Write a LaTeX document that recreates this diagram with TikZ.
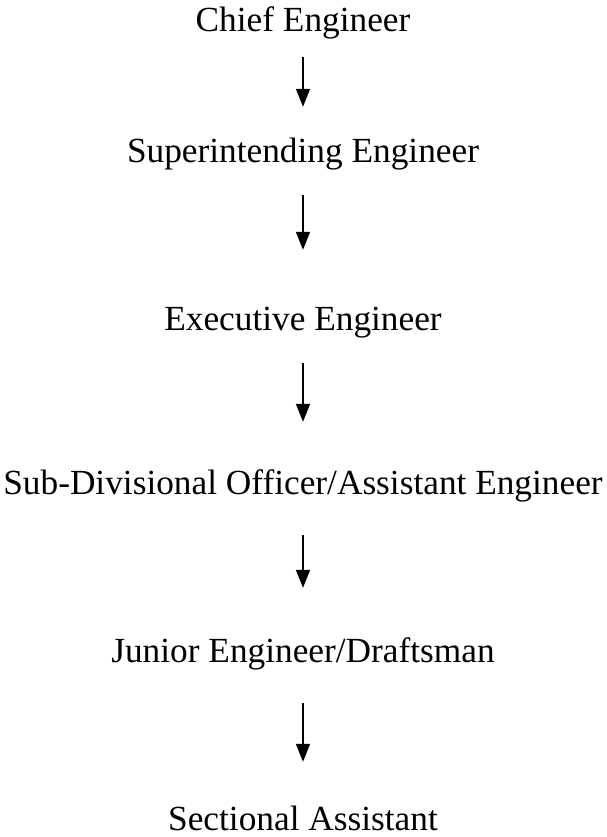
\documentclass[tikz,border=0pt]{standalone}
\usepackage{fontspec}
\setmainfont{Liberation Serif}
\usetikzlibrary{arrows.meta}
\begin{document}
\begin{tikzpicture}[x=1pt,y=-1pt,
  rank/.style={inner sep=0pt, text height=24pt, text depth=8pt,
    font=\fontsize{35.3}{41}\selectfont},
  link/.style={line width=1.5pt, -{Triangle[width=14pt,length=18pt]}}]
  \useasboundingbox (0,0) rectangle (606,837);
  % each title sits with its baseline at the given y
  \node[rank, anchor=base] (ce)  at (303,32)  {Chief Engineer};
  \node[rank, anchor=base] (se)  at (303,163) {Superintending Engineer};
  \node[rank, anchor=base] (ee)  at (303,330) {Executive Engineer};
  \node[rank, anchor=base] (sdo) at (303,494) {Sub-Divisional Officer/Assistant Engineer};
  \node[rank, anchor=base] (je)  at (303,662) {Junior Engineer/Draftsman};
  \node[rank, anchor=base] (sa)  at (303,830) {Sectional Assistant};
  % chain of command
  \draw[link, shorten <=17pt, shorten >=32pt] (ce.south) -- (se.north);
  \draw[link, shorten <=24pt, shorten >=56pt] (se.south) -- (ee.north);
  \draw[link, shorten <=25pt, shorten >=48pt] (ee.south) -- (sdo.north);
  \draw[link, shorten <=33pt, shorten >=50pt] (sdo.south) -- (je.north);
  \draw[link, shorten <=33pt, shorten >=44pt] (je.south) -- (sa.north);
\end{tikzpicture}
\end{document}
